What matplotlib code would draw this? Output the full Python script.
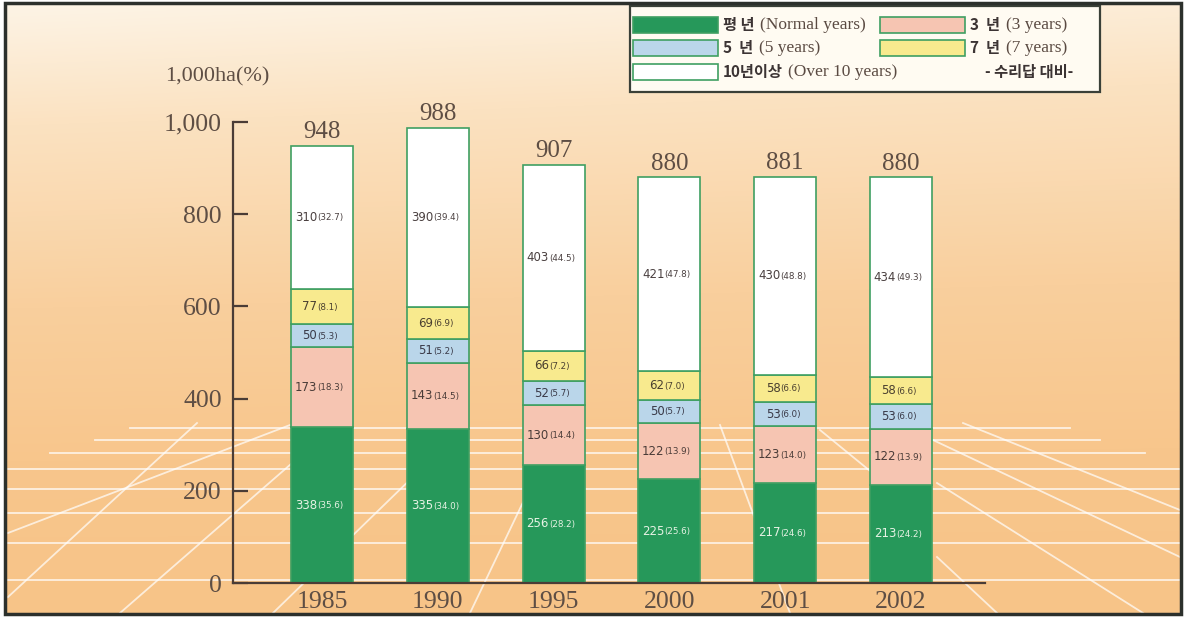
import numpy as np
import matplotlib
matplotlib.use('Agg')
import matplotlib.pyplot as plt
from matplotlib.patches import Rectangle
from matplotlib.colors import to_rgb

plt.rcParams['font.family'] = ['Liberation Serif', 'Noto Sans CJK KR']

# data (1,000 ha and share in %)
years = ['1985', '1990', '1995', '2000', '2001', '2002']
totals = [948, 988, 907, 880, 881, 880]
normal = [338, 335, 256, 225, 217, 213]
normal_pct = [35.6, 34.0, 28.2, 25.6, 24.6, 24.2]
yr3 = [173, 143, 130, 122, 123, 122]
yr3_pct = [18.3, 14.5, 14.4, 13.9, 14.0, 13.9]
yr5 = [50, 51, 52, 50, 53, 53]
yr5_pct = [5.3, 5.2, 5.7, 5.7, 6.0, 6.0]
yr7 = [77, 69, 66, 62, 58, 58]
yr7_pct = [8.1, 6.9, 7.2, 7.0, 6.6, 6.6]
yr10 = [310, 390, 403, 421, 430, 434]
yr10_pct = [32.7, 39.4, 44.5, 47.8, 48.8, 49.3]

series = [normal, yr3, yr5, yr7, yr10]
shares = [normal_pct, yr3_pct, yr5_pct, yr7_pct, yr10_pct]
colors = ['#26985a', '#f6c5b2', '#bad6ea', '#f8ea8e', '#ffffff']
txtcol = ['#e6f2e4', '#4a3c38', '#3a3a48', '#4a4030', '#4a4040']

leg_ko = ['평 년', '3  년', '5  년', '7  년', '10년이상']
leg_en = ['(Normal years)', '(3 years)', '(5 years)', '(7 years)', '(Over 10 years)']

W, H = 1186, 617
fig = plt.figure(figsize=(W / 100, H / 100), dpi=100)

# background panel in pixel coords
bg = fig.add_axes([0, 0, 1, 1], zorder=0)
bg.set_xlim(0, W)
bg.set_ylim(H, 0)
bg.axis('off')

yy = np.linspace(0, 1, H)[:, None]
xx = np.linspace(0, 1, W)[None, :]
stops = [0.0, 0.2, 0.5, 0.75, 1.0]
cols = np.array([to_rgb(c) for c in ['#fdf4e6', '#fbe2c1', '#f9cf9d', '#f8c68c', '#f7c488']])
t = np.clip(yy + 0.08 * xx * (1 - yy), 0, 1)
img = np.stack([np.interp(t, stops, cols[:, k]) for k in range(3)], axis=-1)
img = np.broadcast_to(img, (H, W, 3))
bg.imshow(img, extent=(5, 1181, 614, 3), aspect='auto', zorder=0)

# perspective floor (decoration)
hl = [(428, 130, 1070), (440, 95, 1100), (453, 50, 1145), (469, 8, 1180),
      (489, 8, 1180), (513, 8, 1180), (543, 8, 1180), (580, 8, 1180)]
for y, x0, x1 in hl:
    bg.plot([x0, x1], [y, y], color='white', lw=1.3, alpha=0.75, zorder=1)
diag = [((8, 597), (197, 423)), ((8, 533), (290, 425)), ((120, 613), (330, 430)),
        ((273, 613), (420, 470)), ((470, 613), (560, 425)), ((720, 425), (790, 613)),
        ((963, 423), (1180, 510)), ((933, 440), (1180, 557)), ((937, 483), (1143, 613)),
        ((937, 557), (997, 613)), ((820, 430), (930, 520))]
for (x0, y0), (x1, y1) in diag:
    bg.plot([x0, x1], [y0, y1], color='white', lw=1.3, alpha=0.7, zorder=1)

bg.add_patch(Rectangle((5, 3), 1176, 611, fill=False, edgecolor='#2c302c', lw=2.5, zorder=5))

# main chart
ax = fig.add_axes([233 / W, (H - 583) / H, (985 - 233) / W, (583 - 122) / H], zorder=1)
ax.patch.set_alpha(0)
x = np.arange(len(years))
ax.set_xlim(-0.769, 5.725)
ax.set_ylim(0, 1000)

bottom = np.zeros(len(years))
for vals, pct, c, tc in zip(series, shares, colors, txtcol):
    ax.bar(x, vals, 0.535, bottom=bottom, color=c, edgecolor='#3f9f62', lw=1.2, zorder=2)
    for xi, v, p, b in zip(x, vals, pct, bottom):
        yc = b + v / 2
        ax.annotate(str(v), (xi, yc), xytext=(-3.5, 0), textcoords='offset points',
                    ha='right', va='center', fontsize=8.5, color=tc,
                    family='DejaVu Sans', zorder=3)
        ax.annotate('(%.1f)' % p, (xi, yc), xytext=(-3.5, -0.3), textcoords='offset points',
                    ha='left', va='center', fontsize=6.3, color=tc,
                    family='DejaVu Sans', zorder=3)
    bottom += np.array(vals)

for xi, tot in zip(x, totals):
    ax.annotate(str(tot), (xi, tot), xytext=(0, 2), textcoords='offset points',
                ha='center', va='bottom', fontsize=18, color='#5e4e44')

for s in ['top', 'right']:
    ax.spines[s].set_visible(False)
for s in ['left', 'bottom']:
    ax.spines[s].set_color('#4a3c36')
    ax.spines[s].set_linewidth(1.6)

ax.set_yticks(range(0, 1001, 200))
ax.set_yticklabels(['0', '200', '400', '600', '800', '1,000'])
ax.tick_params(axis='y', direction='in', length=11, width=1.6, color='#4a3c36',
               labelsize=18.5, labelcolor='#5e4e44', pad=8)
ax.set_xticks(x)
ax.set_xticklabels(years)
ax.tick_params(axis='x', length=0, labelsize=18.5, labelcolor='#5e4e44', pad=6)

fig.text(165 / W, 1 - 77 / H, '1,000ha(%)', fontsize=16, color='#5e4e44',
         ha='left', va='center')

# legend box (pixel coords)
bg.add_patch(Rectangle((630, 6), 470, 86, facecolor='#fffbf2', edgecolor='#3a4038', lw=1.6, zorder=3))
slots = [(633, 25), (880, 25), (633, 48), (880, 48), (633, 72)]
for (sx, sy), c, ko, en in zip(slots, colors, leg_ko, leg_en):
    bg.add_patch(Rectangle((sx, sy - 8), 85, 16, facecolor=c, edgecolor='#3f9f62', lw=1.2, zorder=4))
    tk = bg.text(sx + 90, sy, ko, fontsize=11, fontweight='bold', color='#3c3434',
                 family=['Noto Sans CJK KR', 'DejaVu Sans'], ha='left', va='center', zorder=4)
    bg.annotate(en, xy=(1, 0.5), xycoords=tk, xytext=(4, 0), textcoords='offset points',
                fontsize=12.5, color='#5a4a42', ha='left', va='center', zorder=4)
bg.text(985, 72, '- 수리답 대비-', fontsize=11, fontweight='bold', color='#3c3434',
        family=['Noto Sans CJK KR', 'DejaVu Sans'], ha='left', va='center', zorder=4)

fig.savefig('out.png', dpi=100)
